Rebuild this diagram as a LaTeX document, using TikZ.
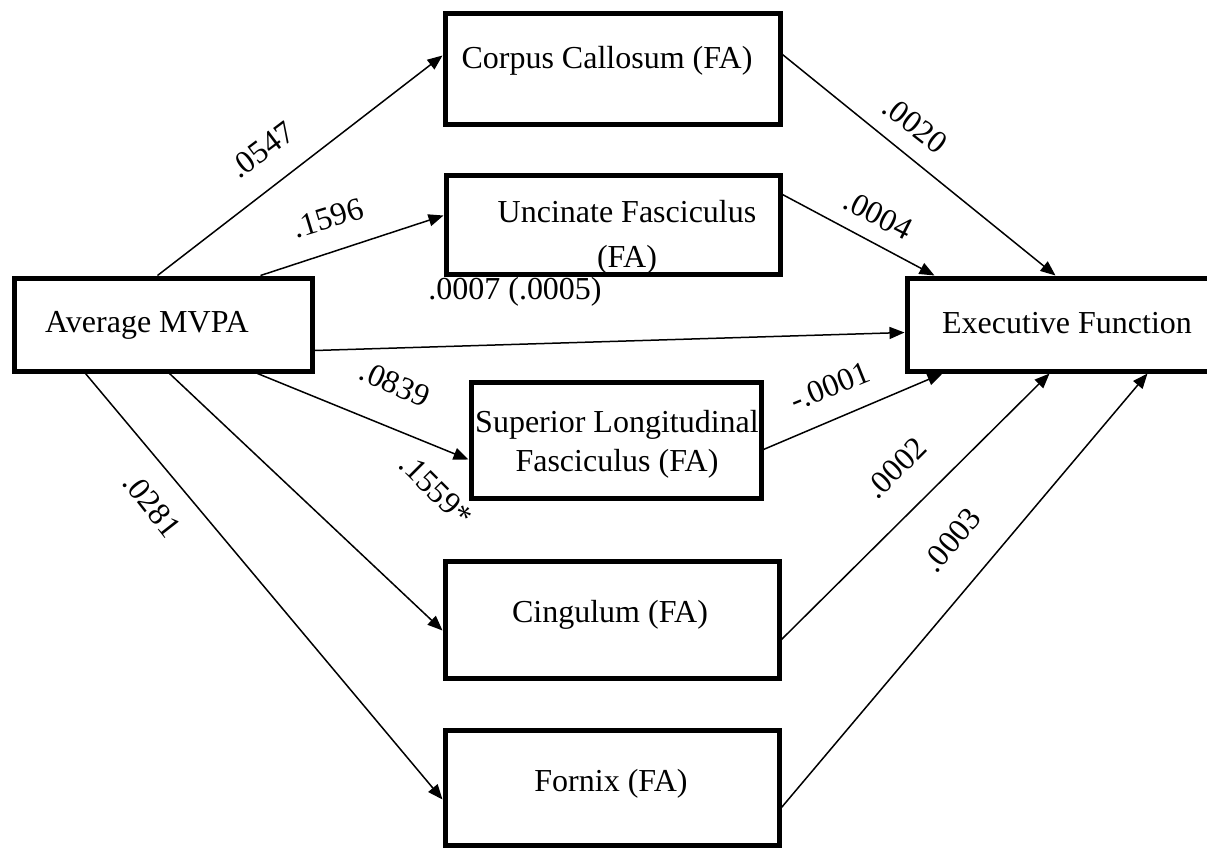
\documentclass[tikz,border=0pt]{standalone}
\usepackage{fontspec}
\setmainfont{Liberation Serif}
\usetikzlibrary{calc,arrows.meta}
\begin{document}
\begin{tikzpicture}[x=0.5pt,y=-0.5pt,
  every node/.style={font=\fontsize{16}{20.5}\selectfont},
  box/.style 2 args={draw, line width=2.5pt, minimum width=#1*0.5pt,
    minimum height=#2*0.5pt, inner sep=0pt},
  link/.style={line width=0.75pt, -{Triangle[length=7.5pt,width=6pt]}},
  coef/.style={inner sep=0pt},
  txt/.style={align=center, inner sep=0pt}]
\clip (0,0) rectangle (1207,848);

% boxes
\node[box={298}{93}]  (mvpa) at (163,324.5) {};
\node[box={335}{111}] (cc)   at (612.5,68.5) {};
\node[box={334}{99}]  (uf)   at (613,224.5) {};
\node[box={290}{116}] (slf)  at (616,440) {};
\node[box={334}{117}] (cg)   at (612,619.5) {};
\node[box={334}{115}] (fx)   at (612,787.5) {};
\node[box={323}{93}]  (ef)   at (1068.5,324.5) {};

% box texts
\node[txt] (tmvpa) at (147,325) {Average MVPA};
\node[txt] (tcc)   at (607,61) {Corpus Callosum (FA)};
\node[txt, font=\fontsize{16}{22.5}\selectfont] (tuf) at (627,237) {Uncinate Fasciculus\\(FA)};
\node[txt, font=\fontsize{16}{19.5}\selectfont] (tslf) at (617,444) {Superior Longitudinal\\Fasciculus (FA)};
\node[txt] (tcg)   at (610,615) {Cingulum (FA)};
\node[txt] (tfx)   at (611,784) {Fornix (FA)};
\node[txt] (tef)   at (1067,323) {Executive Function};

% paths from MVPA
\draw[link] ($(mvpa.north west)+(146,0)$) -- ($(cc.north west)+(0,45)$);
\draw[link] ($(mvpa.north west)+(249,0)$) -- ($(uf.north west)+(0,43)$);
\draw[link] ($(mvpa.north east)+(0,75)$)  -- ($(ef.north west)+(0,57)$);
\draw[link] ($(mvpa.south west)+(246,0)$) -- ($(slf.north west)+(0,80)$);
\draw[link] ($(mvpa.south west)+(158,0)$) -- ($(cg.north west)+(0,72)$);
\draw[link] ($(mvpa.south west)+(74,0)$)  -- ($(fx.north west)+(0,72)$);

% paths into Executive Function
\draw[link] ($(cc.north east)+(0,44)$)  -- ($(ef.north west)+(151,0)$);
\draw[link] ($(uf.north east)+(0,22)$)  -- ($(ef.north west)+(30,0)$);
\draw[link] ($(slf.north east)+(0,70)$) -- ($(ef.south west)+(38,0)$);
\draw[link] ($(cg.north east)+(0,81)$)  -- ($(ef.south west)+(145,0)$);
\draw[link] ($(fx.north east)+(0,80)$)  -- ($(ef.south west)+(243,0)$);

% coefficients
\node[coef, rotate=37]  (c1)  at (262,150) {.0547};
\node[coef, rotate=17]  (c2)  at (328,218) {.1596};
\node[coef]             (c3)  at (515,292) {.0007 (.0005)};
\node[coef, rotate=-24] (c4)  at (395,384) {.0839};
\node[coef, rotate=-45] (c5)  at (436,490) {.1559*};
\node[coef, rotate=-52] (c6)  at (152,505) {.0281};
\node[coef, rotate=-38] (c7)  at (915,125) {.0020};
\node[coef, rotate=-27] (c8)  at (878,215) {.0004};
\node[coef, rotate=22]  (c9)  at (830,386) {-.0001};
\node[coef, rotate=45]  (c10) at (896,468) {.0002};
\node[coef, rotate=50]  (c11) at (952,540) {.0003};
\end{tikzpicture}
\end{document}
